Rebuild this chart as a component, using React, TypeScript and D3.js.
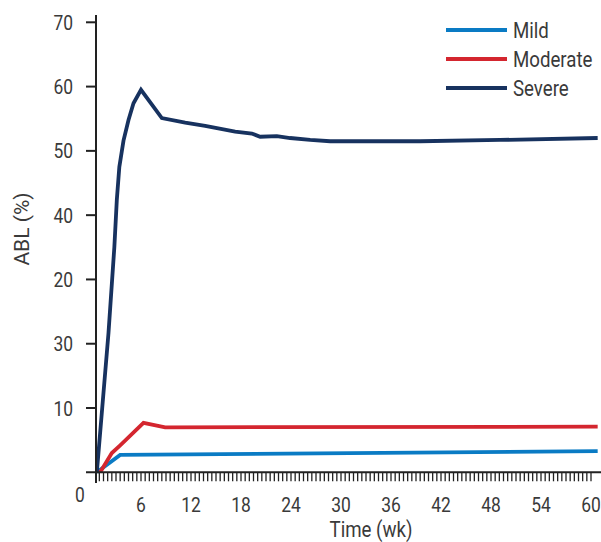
import * as d3 from "d3";

const width = 601;
const height = 542;

// weeks / ABL (%)
const mildWeeks = [0.7, 3.5, 60.8];
const mildValues = [0, 2.7, 3.3];

const moderateWeeks = [1.1, 2.5, 3.5, 6.3, 8.9, 60.8];
const moderateValues = [0, 3.0, 4.2, 7.7, 7.0, 7.1];

const severeWeeks = [0.7, 2.1, 2.8, 3.1, 3.4, 3.9, 4.5, 5.1, 6.0, 8.5, 11.3, 13.7, 17.3, 19.3, 20.3, 22.3, 23.9, 26.3, 28.7, 39.5, 49.1, 60.8];
const severeValues = [0, 21.7, 35, 42.4, 47.5, 51.6, 54.8, 57.4, 59.5, 55.1, 54.4, 53.9, 53.0, 52.7, 52.2, 52.3, 52.0, 51.7, 51.5, 51.5, 51.7, 52.0];

const xTicks = [6, 12, 18, 24, 30, 36, 42, 48, 54, 60];
const yTicks = [10, 20, 30, 40, 50, 60, 70];
// labels exactly as printed on the original axis
const yTickLabels = ["10", "30", "20", "40", "50", "60", "70"];

const seriesNames = ["Mild", "Moderate", "Severe"];
const seriesColors = ["#0a7bc4", "#d4262f", "#17325f"];

const font = "Roboto, 'Noto Sans', sans-serif";
const textColor = "#3a3a3a";
const squeeze = 0.83; // the original uses a condensed face

function Label({ x, y, size, anchor = "start", children }: any) {
  return (
    <text
      transform={`translate(${x},${y}) scale(${squeeze},1)`}
      textAnchor={anchor}
      fontSize={size}
      fill={textColor}
    >
      {children}
    </text>
  );
}

export default function App() {
  const x = d3.scaleLinear().domain([0, 60]).range([91, 591]);
  const y = d3.scaleLinear().domain([0, 70]).range([472.3, 22.3]);

  const line = d3
    .line<[number, number]>()
    .x((d) => x(d[0]))
    .y((d) => y(d[1]));

  const series = [
    mildWeeks.map((w, i) => [w, mildValues[i]] as [number, number]),
    moderateWeeks.map((w, i) => [w, moderateValues[i]] as [number, number]),
    severeWeeks.map((w, i) => [w, severeValues[i]] as [number, number]),
  ];

  const minorTicks = d3.range(1, 60.01, 0.5);
  const axisX = 96;

  return (
    <svg
      width={width}
      height={height}
      style={{ position: "absolute", left: 0, top: 0, background: "#fff" }}
      fontFamily={font}
    >
      {/* data lines */}
      {series.map((s, i) => (
        <path
          key={seriesNames[i]}
          d={line(s) || ""}
          fill="none"
          stroke={seriesColors[i]}
          strokeWidth={3.8}
        />
      ))}

      {/* y axis */}
      <line x1={axisX} x2={axisX} y1={15} y2={483} stroke="#222" strokeWidth={2} />
      {yTicks.map((t, i) => (
        <g key={t}>
          <line x1={86} x2={axisX} y1={y(t)} y2={y(t)} stroke="#222" strokeWidth={2} />
          <Label x={73} y={y(t) + 7.5} size={21} anchor="end">
            {yTickLabels[i]}
          </Label>
        </g>
      ))}

      {/* x axis */}
      <line x1={86} x2={601} y1={y(0)} y2={y(0)} stroke="#222" strokeWidth={2} />
      {minorTicks.map((t) => (
        <line key={t} x1={x(t)} x2={x(t)} y1={y(0)} y2={y(0) + 9} stroke="#222" strokeWidth={1.3} />
      ))}
      {xTicks.map((t) => (
        <Label key={t} x={x(t)} y={511.5} size={21} anchor="middle">
          {t}
        </Label>
      ))}
      <Label x={80} y={501.5} size={21} anchor="middle">
        0
      </Label>

      {/* axis titles */}
      <Label x={371} y={536.5} size={22.5} anchor="middle">
        Time (wk)
      </Label>
      <text
        transform="translate(29,229) rotate(-90)"
        textAnchor="middle"
        fontSize={21}
        fill={textColor}
      >
        ABL (%)
      </text>

      {/* legend */}
      {seriesNames.map((name, i) => (
        <g key={name}>
          <line x1={446} x2={507} y1={30 + i * 29} y2={30 + i * 29} stroke={seriesColors[i]} strokeWidth={3.8} />
          <Label x={513} y={38 + i * 29} size={22.5}>
            {name}
          </Label>
        </g>
      ))}
    </svg>
  );
}
